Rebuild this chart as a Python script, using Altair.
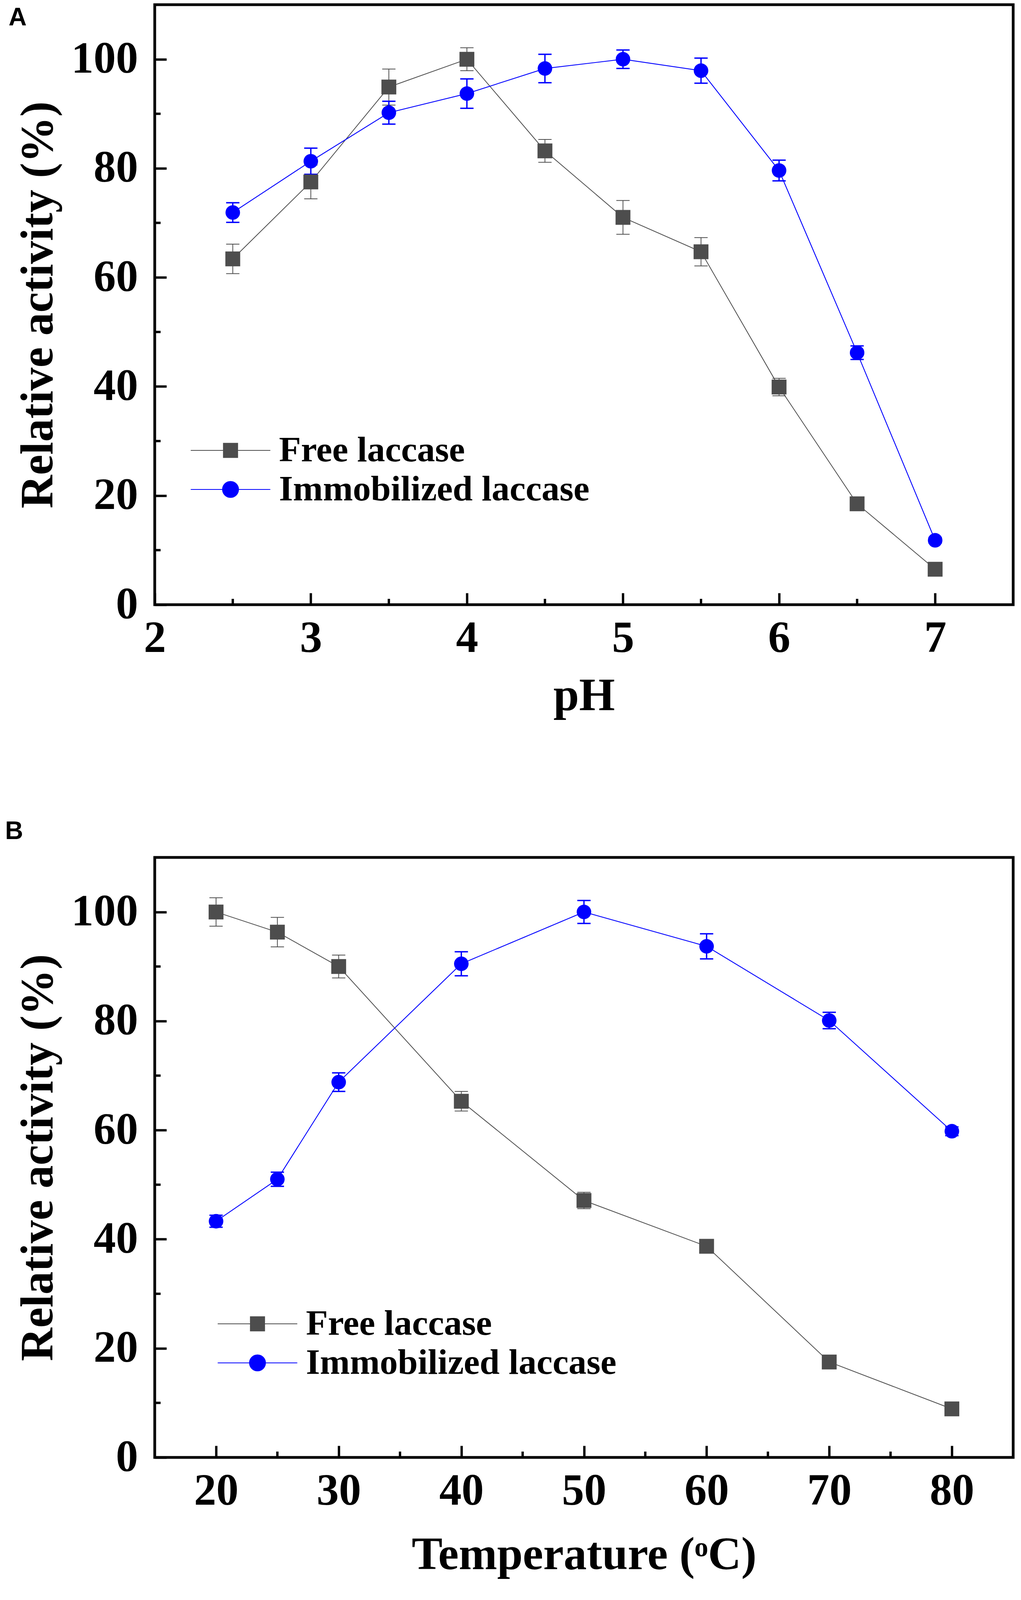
import altair as alt
import pandas as pd

# ---------------- data ----------------
SERIES = ["Free laccase", "Immobilized laccase"]
COLORS = ["#4d4d4d", "#0000ff"]

PH = [2.5, 3, 3.5, 4, 4.5, 5, 5.5, 6, 6.5, 7]
PH_FREE = [63.4, 77.5, 94.9, 100.0, 83.2, 71.0, 64.7, 39.9, 18.5, 6.5]
PH_FREE_ERR = [2.7, 3.1, 3.3, 2.1, 2.1, 3.1, 2.6, 1.6, 0.6, 0.4]
PH_IMM = [71.9, 81.3, 90.2, 93.7, 98.3, 100.0, 97.9, 79.6, 46.2, 11.8]
PH_IMM_ERR = [1.8, 2.4, 2.1, 2.7, 2.6, 1.7, 2.3, 1.9, 1.25, 0.5]

TEMP = [20, 25, 30, 40, 50, 60, 70, 80]
T_FREE = [100.0, 96.3, 90.0, 65.3, 47.1, 38.7, 17.5, 8.9]
T_FREE_ERR = [2.6, 2.7, 2.1, 1.8, 1.5, 0.6, 0.5, 0.5]
T_IMM = [43.3, 51.0, 68.8, 90.5, 100.0, 93.7, 80.1, 59.8]
T_IMM_ERR = [1.1, 1.3, 1.7, 2.2, 2.1, 2.3, 1.5, 0.8]

Y_MAJOR = [0, 20, 40, 60, 80, 100]
Y_MINOR = [10, 30, 50, 70, 90]
PH_MAJOR = [2, 3, 4, 5, 6, 7]
PH_MINOR = [2.5, 3.5, 4.5, 5.5, 6.5]
T_MAJOR = [20, 30, 40, 50, 60, 70, 80]
T_MINOR = [25, 35, 45, 55, 65, 75]

Y_TITLE = "Relative activity (%)"

# ---------------- style ----------------
W, H = 2197, 1536
SERIF = "Liberation Serif"
MAJOR_TICK = 30
MINOR_TICK = 15
TICK_W = 6

SQ_PATH = "M-2.68,0H2.68M-0.48,-0.48H0.48V0.48H-0.48Z"
CI_PATH = "M-2.68,0H2.68M-0.54,0A0.54,0.54,0,1,0,0.54,0A0.54,0.54,0,1,0,-0.54,0Z"

STYLES = [
    # name, color, shape, size, line width, errorbar width
    (SERIES[0], COLORS[0], "square", 1444, 2, 2),
    (SERIES[1], COLORS[1], "circle", 1385, 2.2, 3.5),
]


def axis(title, values, label_pad, title_pad):
    return alt.Axis(
        values=values, title=title, grid=False, domain=False,
        ticks=True, tickSize=MAJOR_TICK, tickWidth=TICK_W, tickColor="black",
        offset=-MAJOR_TICK,
        labelFont=SERIF, labelFontWeight="bold", labelFontSize=114,
        labelColor="black", labelPadding=label_pad, labelFlush=False,
        labelOverlap=False, labelLimit=1000,
        titleFont=SERIF, titleFontWeight="bold", titleFontSize=118,
        titleColor="black", titlePadding=title_pad,
    )


def build_panel(label, label_x, label_y, xs, free, free_err, imm, imm_err,
                xdomain, xmajor, xminor, xtitle, x_title_pad, leg_x, leg_y):
    rows = []
    for name, vals, errs in ((SERIES[0], free, free_err), (SERIES[1], imm, imm_err)):
        for xv, v, e in zip(xs, vals, errs):
            rows.append({"x": xv, "y": v, "err": e, "series": name})
    df = pd.DataFrame(rows)

    xscale = alt.Scale(domain=xdomain, nice=False, zero=False)
    yscale = alt.Scale(domain=[0, 110], nice=False, zero=False)
    xaxis = axis(xtitle, xmajor, 30, x_title_pad)
    yaxis = axis(Y_TITLE, Y_MAJOR, 43, 68)

    def X(f="x:Q"):
        return alt.X(f, scale=xscale, axis=xaxis)

    def Y(f="y:Q"):
        return alt.Y(f, scale=yscale, axis=yaxis)

    base = alt.Chart(df)
    layers = []

    # minor ticks (inward)
    layers.append(
        alt.Chart(pd.DataFrame({"x": xminor}))
        .mark_rule(color="black", strokeWidth=TICK_W)
        .encode(x=X(), y=alt.value(H - MINOR_TICK), y2=alt.value(H))
    )
    layers.append(
        alt.Chart(pd.DataFrame({"y": Y_MINOR}))
        .mark_rule(color="black", strokeWidth=TICK_W)
        .encode(y=Y(), x=alt.value(0), x2=alt.value(MINOR_TICK))
    )

    for name, color, shape, size, lw, ew in STYLES:
        sub = base.transform_filter(alt.datum.series == name)
        layers.append(sub.mark_line(color=color, strokeWidth=lw).encode(x=X(), y=Y()))

    for name, color, shape, size, lw, ew in STYLES:
        sub = base.transform_filter(alt.datum.series == name).transform_calculate(
            lo="datum.y - datum.err", hi="datum.y + datum.err"
        )
        layers.append(
            sub.mark_rule(color=color, strokeWidth=ew).encode(x=X(), y=Y("lo:Q"), y2="hi:Q")
        )
        for f in ("lo:Q", "hi:Q"):
            layers.append(
                sub.mark_tick(orient="horizontal", size=34, thickness=ew,
                              color=color, opacity=1)
                .encode(x=X(), y=Y(f))
            )

    for name, color, shape, size, lw, ew in STYLES:
        sub = base.transform_filter(alt.datum.series == name)
        layers.append(
            sub.mark_point(shape=shape, filled=True, size=size, color=color,
                           opacity=1, strokeWidth=0)
            .encode(x=X(), y=Y())
        )

    # legend-only layer (no data drawn)
    leg = alt.Legend(
        title=None, orient="none", legendX=leg_x, legendY=leg_y, padding=0,
        symbolSize=5776, symbolStrokeWidth=2, symbolOpacity=1,
        labelFont=SERIF, labelFontWeight="bold", labelFontSize=92,
        labelColor="black", labelOffset=78, rowPadding=8, labelLimit=2000,
    )
    layers.append(
        base.transform_filter("datum.y < -1000")
        .mark_point(filled=True, size=5776, strokeWidth=2, opacity=1)
        .encode(
            x=X(), y=Y(),
            shape=alt.Shape("series:N", scale=alt.Scale(domain=SERIES, range=[SQ_PATH, CI_PATH]), legend=leg),
            fill=alt.Fill("series:N", scale=alt.Scale(domain=SERIES, range=COLORS), legend=leg),
            stroke=alt.Stroke("series:N", scale=alt.Scale(domain=SERIES, range=COLORS), legend=leg),
        )
    )

    # panel letter
    layers.append(
        alt.Chart(pd.DataFrame({"t": [label]}))
        .mark_text(font="Liberation Sans", fontWeight="bold", fontSize=64,
                   align="left", baseline="top", color="black")
        .encode(text="t:N", x=alt.value(label_x), y=alt.value(label_y))
    )

    return alt.layer(*layers).properties(width=W, height=H)


panel_a = build_panel("A", -374, 2, PH, PH_FREE, PH_FREE_ERR, PH_IMM, PH_IMM_ERR,
                      [2, 7.5], PH_MAJOR, PH_MINOR, "pH", 33, 148, 1095)
panel_b = build_panel("B", -383, -98, TEMP, T_FREE, T_FREE_ERR, T_IMM, T_IMM_ERR,
                      [15, 85], T_MAJOR, T_MINOR, "Temperature (ᵒC)", 49, 217, 1148)

chart = (
    alt.vconcat(panel_a, panel_b, spacing=248,
                padding={"left": 1, "top": 0, "right": 5, "bottom": 5})
    .resolve_scale(shape="independent", fill="independent", stroke="independent")
    .resolve_legend(shape="independent", fill="independent", stroke="independent")
    .configure(background="white")
    .configure_view(stroke="black", strokeWidth=7)
)

chart.save("out.html", embed_options={"renderer": "svg", "actions": False})
